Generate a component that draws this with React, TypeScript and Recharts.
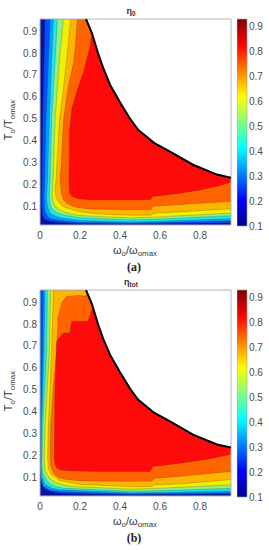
import React from 'react'
import { ComposedChart, Area, Line, XAxis, YAxis, ReferenceArea, BarChart, Bar } from 'recharts'

// [omega, lower edge, upper edge] of each filled contour band (value above the level)
type Pt = [number, number, number]

const X0 = 0
const X1 = 0.955
const Y0 = 0.015
const Y1 = 0.955

const xTicks = [0, 0.2, 0.4, 0.6, 0.8]
const yTicks = [0.1, 0.2, 0.3, 0.4, 0.5, 0.6, 0.7, 0.8, 0.9]
const cbTicks = [0.1, 0.2, 0.3, 0.4, 0.5, 0.6, 0.7, 0.8, 0.9]
const cbRange: [number, number] = [0.1, 0.928]

// band colours, lowest level first
const bandColors = ['#0a12a0', '#0050ff', '#00a0ff', '#20e6e6', '#90f080', '#f0f000', '#ffb400', '#ff6400', '#ff0a0a']

const base: Pt[] = [[X0, Y0, Y1], [X1, Y0, Y1]]

// (a) eta_0
const a1: Pt[] = [[0.008, 0.13, 0.13], [0.01, 0.08, 0.25], [0.013, 0.06, 0.49], [0.02, 0.045, 0.765], [0.025, 0.04, 0.955], [0.05, 0.032, 0.955], [0.1, 0.026, 0.955], [0.2, 0.022, 0.955], [0.45, 0.02, 0.955], [0.6, 0.021, 0.955], [0.955, 0.025, 0.955]]
const a2: Pt[] = [[0.02, 0.13, 0.13], [0.023, 0.09, 0.215], [0.03, 0.065, 0.49], [0.042, 0.05, 0.765], [0.05, 0.045, 0.955], [0.1, 0.035, 0.955], [0.2, 0.028, 0.955], [0.45, 0.024, 0.955], [0.6, 0.026, 0.955], [0.955, 0.034, 0.955]]
const a3: Pt[] = [[0.033, 0.14, 0.14], [0.037, 0.1, 0.215], [0.047, 0.075, 0.49], [0.058, 0.065, 0.765], [0.067, 0.06, 0.955], [0.1, 0.048, 0.955], [0.2, 0.036, 0.955], [0.45, 0.029, 0.955], [0.6, 0.032, 0.955], [0.955, 0.044, 0.955]]
const a4: Pt[] = [[0.046, 0.15, 0.15], [0.05, 0.11, 0.215], [0.058, 0.09, 0.49], [0.075, 0.078, 0.765], [0.087, 0.07, 0.955], [0.12, 0.06, 0.955], [0.2, 0.048, 0.955], [0.45, 0.038, 0.955], [0.6, 0.042, 0.955], [0.955, 0.057, 0.955]]
const a5: Pt[] = [[0.06, 0.16, 0.16], [0.065, 0.12, 0.215], [0.075, 0.1, 0.49], [0.097, 0.085, 0.765], [0.117, 0.075, 0.955], [0.15, 0.066, 0.955], [0.2, 0.058, 0.955], [0.45, 0.047, 0.955], [0.6, 0.052, 0.955], [0.955, 0.069, 0.955]]
const a6: Pt[] = [[0.075, 0.19, 0.19], [0.08, 0.14, 0.215], [0.097, 0.115, 0.49], [0.115, 0.1, 0.62], [0.133, 0.093, 0.765], [0.153, 0.088, 0.955], [0.2, 0.075, 0.955], [0.3, 0.065, 0.955], [0.45, 0.06, 0.955], [0.555, 0.06, 0.955], [0.565, 0.068, 0.955], [0.6, 0.07, 0.955], [0.955, 0.089, 0.955]]
const a7: Pt[] = [[0.1, 0.22, 0.22], [0.107, 0.16, 0.3], [0.117, 0.13, 0.49], [0.14, 0.11, 0.64], [0.17, 0.1, 0.765], [0.187, 0.095, 0.955], [0.25, 0.088, 0.955], [0.45, 0.085, 0.955], [0.555, 0.086, 0.955], [0.565, 0.1, 0.955], [0.7, 0.108, 0.955], [0.955, 0.123, 0.955]]
const a8: Pt[] = [[0.145, 0.2, 0.2], [0.148, 0.16, 0.45], [0.16, 0.145, 0.55], [0.19, 0.135, 0.64], [0.22, 0.132, 0.72], [0.25, 0.13, 0.83], [0.27, 0.13, 0.955], [0.55, 0.13, 0.955], [0.565, 0.145, 0.955], [0.7, 0.16, 0.955], [0.8, 0.175, 0.955], [0.9, 0.195, 0.955], [0.955, 0.21, 0.955]]
const cutA: [number, number][] = [[0.23, 0.955], [0.26, 0.89], [0.29, 0.8], [0.315, 0.734], [0.35, 0.655], [0.4, 0.575], [0.45, 0.5], [0.49, 0.45], [0.57, 0.39], [0.65, 0.35], [0.765, 0.29], [0.885, 0.245], [0.955, 0.23]]

// (b) eta_tot
const b1: Pt[] = [[0, 0.14, 0.955], [0.01, 0.07, 0.955], [0.02, 0.05, 0.955], [0.05, 0.035, 0.955], [0.1, 0.028, 0.955], [0.45, 0.021, 0.955], [0.955, 0.024, 0.955]]
const b2: Pt[] = [[0.002, 0.15, 0.15], [0.004, 0.1, 0.33], [0.013, 0.065, 0.676], [0.017, 0.058, 0.955], [0.05, 0.042, 0.955], [0.1, 0.035, 0.955], [0.45, 0.025, 0.955], [0.6, 0.026, 0.955], [0.955, 0.03, 0.955]]
const b3: Pt[] = [[0.006, 0.16, 0.16], [0.008, 0.11, 0.33], [0.02, 0.075, 0.676], [0.025, 0.068, 0.955], [0.06, 0.05, 0.955], [0.1, 0.043, 0.955], [0.45, 0.03, 0.955], [0.6, 0.031, 0.955], [0.955, 0.038, 0.955]]
const b4: Pt[] = [[0.01, 0.17, 0.17], [0.013, 0.12, 0.33], [0.033, 0.085, 0.676], [0.037, 0.08, 0.955], [0.07, 0.06, 0.955], [0.12, 0.05, 0.955], [0.45, 0.037, 0.955], [0.6, 0.039, 0.955], [0.955, 0.05, 0.955]]
const b5: Pt[] = [[0.021, 0.18, 0.18], [0.025, 0.13, 0.33], [0.047, 0.097, 0.676], [0.053, 0.092, 0.955], [0.08, 0.075, 0.955], [0.14, 0.06, 0.955], [0.45, 0.046, 0.955], [0.6, 0.05, 0.955], [0.955, 0.066, 0.955]]
const b6: Pt[] = [[0.038, 0.19, 0.19], [0.042, 0.14, 0.33], [0.058, 0.11, 0.676], [0.067, 0.105, 0.955], [0.1, 0.085, 0.955], [0.2, 0.068, 0.955], [0.45, 0.058, 0.955], [0.56, 0.058, 0.955], [0.57, 0.066, 0.955], [0.7, 0.07, 0.955], [0.955, 0.09, 0.955]]
const b7: Pt[] = [[0.05, 0.2, 0.2], [0.053, 0.15, 0.33], [0.07, 0.115, 0.55], [0.083, 0.105, 0.676], [0.09, 0.1, 0.83], [0.11, 0.095, 0.9], [0.133, 0.09, 0.926], [0.2, 0.085, 0.93], [0.225, 0.084, 0.926], [0.26, 0.083, 0.955], [0.45, 0.082, 0.955], [0.56, 0.083, 0.955], [0.57, 0.095, 0.955], [0.7, 0.105, 0.955], [0.955, 0.127, 0.955]]
const b8: Pt[] = [[0.072, 0.2, 0.2], [0.075, 0.16, 0.5], [0.083, 0.145, 0.72], [0.1, 0.135, 0.74], [0.117, 0.132, 0.759], [0.15, 0.13, 0.759], [0.158, 0.13, 0.812], [0.24, 0.128, 0.812], [0.29, 0.127, 0.955], [0.55, 0.127, 0.955], [0.565, 0.15, 0.955], [0.7, 0.165, 0.955], [0.85, 0.185, 0.955], [0.955, 0.205, 0.955]]
const cutB: [number, number][] = [[0.23, 0.955], [0.26, 0.89], [0.29, 0.8], [0.315, 0.734], [0.35, 0.66], [0.4, 0.58], [0.45, 0.505], [0.49, 0.455], [0.57, 0.395], [0.65, 0.355], [0.765, 0.295], [0.885, 0.25], [0.955, 0.236]]

const NONE = [null, null]

function buildRows(levels: Pt[][], cut: [number, number][]) {
  const rows: any[] = []
  levels.forEach((pts, i) => pts.forEach(([x, lo, hi]) => rows.push({ x, ['L' + i]: [lo, hi] })))
  cut.forEach(([x, c]) => rows.push({ x, white: [c, Y1], cut: c }))
  rows.sort((p, q) => p.x - q.x)
  return rows
}

const rowsA = buildRows([base, a1, a2, a3, a4, a5, a6, a7, a8], cutA)
const rowsB = buildRows([base, b1, b2, b3, b4, b5, b6, b7, b8], cutB)

const font = '"Liberation Sans", Arial, sans-serif'
const tickStyle = { fontSize: 10, fill: '#4a4a4a', fontFamily: font }

function ContourPanel({ rows, top }: { rows: any[]; top: number }) {
  return (
    <div style={{ position: 'absolute', left: 0, top }}>
      <ComposedChart width={269} height={242} data={rows} margin={{ top: 19, right: 38, bottom: 0, left: 10 }}>
        <XAxis
          type="number"
          dataKey="x"
          domain={[X0, X1]}
          ticks={xTicks}
          allowDataOverflow
          axisLine={false}
          tickLine={false}
          tickSize={3}
          tickMargin={4}
          height={17}
          tick={tickStyle}
        />
        <YAxis
          type="number"
          domain={[Y0, Y1]}
          ticks={yTicks}
          allowDataOverflow
          axisLine={false}
          tickLine={false}
          tickSize={3}
          tickMargin={0}
          width={30}
          tick={tickStyle}
        />
        {bandColors.map((c, i) => (
          <Area
            key={i}
            type="linear"
            dataKey={(d: any) => d['L' + i] ?? NONE}
            fill={c}
            fillOpacity={1}
            stroke={i === 0 ? 'none' : 'rgba(40,40,40,0.45)'}
            strokeWidth={0.5}
            connectNulls
            dot={false}
            activeDot={false}
            isAnimationActive={false}
          />
        ))}
        <Area
          type="linear"
          dataKey={(d: any) => d.white ?? NONE}
          fill="#ffffff"
          fillOpacity={1}
          stroke="none"
          connectNulls
          dot={false}
          activeDot={false}
          isAnimationActive={false}
        />
        <Line
          type="linear"
          dataKey="cut"
          stroke="#000"
          strokeWidth={2}
          dot={false}
          activeDot={false}
          connectNulls
          isAnimationActive={false}
        />
        <ReferenceArea x1={X0} x2={X1} y1={Y0} y2={Y1} fill="none" stroke="#b4b4b4" strokeWidth={1} ifOverflow="visible" />
      </ComposedChart>
    </div>
  )
}

function ColorBar({ top, id }: { top: number; id: string }) {
  return (
    <div style={{ position: 'absolute', left: 237, top }}>
      <BarChart width={32} height={242} data={[{ name: 'c', v: cbRange }]} margin={{ top: 19, right: 0, bottom: 16, left: 0 }} barCategoryGap={0}>
        <defs>
          <linearGradient id={id} x1="0" y1="1" x2="0" y2="0">
            <stop offset="0" stopColor="#00008f" />
            <stop offset="0.125" stopColor="#0000ff" />
            <stop offset="0.375" stopColor="#00ffff" />
            <stop offset="0.625" stopColor="#ffff00" />
            <stop offset="0.875" stopColor="#ff0000" />
            <stop offset="1" stopColor="#800000" />
          </linearGradient>
        </defs>
        <XAxis dataKey="name" hide />
        <YAxis
          orientation="right"
          type="number"
          domain={cbRange}
          ticks={cbTicks}
          axisLine={false}
          tickLine={false}
          tickSize={2}
          tickMargin={0}
          width={22}
          tick={tickStyle}
        />
        <Bar dataKey="v" fill={`url(#${id})`} stroke="#a0a0a0" strokeWidth={0.6} isAnimationActive={false} />
      </BarChart>
    </div>
  )
}

const txt: React.CSSProperties = { position: 'absolute', fontFamily: font, color: '#333', whiteSpace: 'nowrap', lineHeight: 1 }
const sub: React.CSSProperties = { fontSize: '0.72em', verticalAlign: '-0.3em', lineHeight: 1 }

function Labels({ top, title, tag }: { top: number; title: string; tag: string }) {
  return (
    <>
      <div style={{ ...txt, left: 91, width: 80, top: top + 7, textAlign: 'center', fontSize: 9, fontWeight: 'bold' }}>
        η<span style={sub}>{title}</span>
      </div>
      <div style={{ ...txt, left: 10, top: top + 120, fontSize: 11, transform: 'translate(-50%, -50%) rotate(-90deg)' }}>
        T<span style={sub}>o</span>/T<span style={sub}>omax</span>
      </div>
      <div style={{ ...txt, left: 85, width: 100, top: top + 245, textAlign: 'center', fontSize: 11 }}>
        ω<span style={sub}>o</span>/ω<span style={sub}>omax</span>
      </div>
      <div style={{ ...txt, left: 109, width: 50, top: top + 261, textAlign: 'center', fontSize: 12, fontWeight: 'bold', fontFamily: '"Liberation Serif", serif', color: '#222' }}>
        {tag}
      </div>
    </>
  )
}

export default function App() {
  return (
    <div style={{ position: 'absolute', left: 0, top: 0, width: 269, height: 550, background: '#fff', overflow: 'hidden' }}>
      <ContourPanel rows={rowsA} top={0} />
      <ColorBar top={0} id="jetA" />
      <Labels top={0} title="0" tag="(a)" />
      <ContourPanel rows={rowsB} top={271} />
      <ColorBar top={271} id="jetB" />
      <Labels top={271} title="tot" tag="(b)" />
    </div>
  )
}
